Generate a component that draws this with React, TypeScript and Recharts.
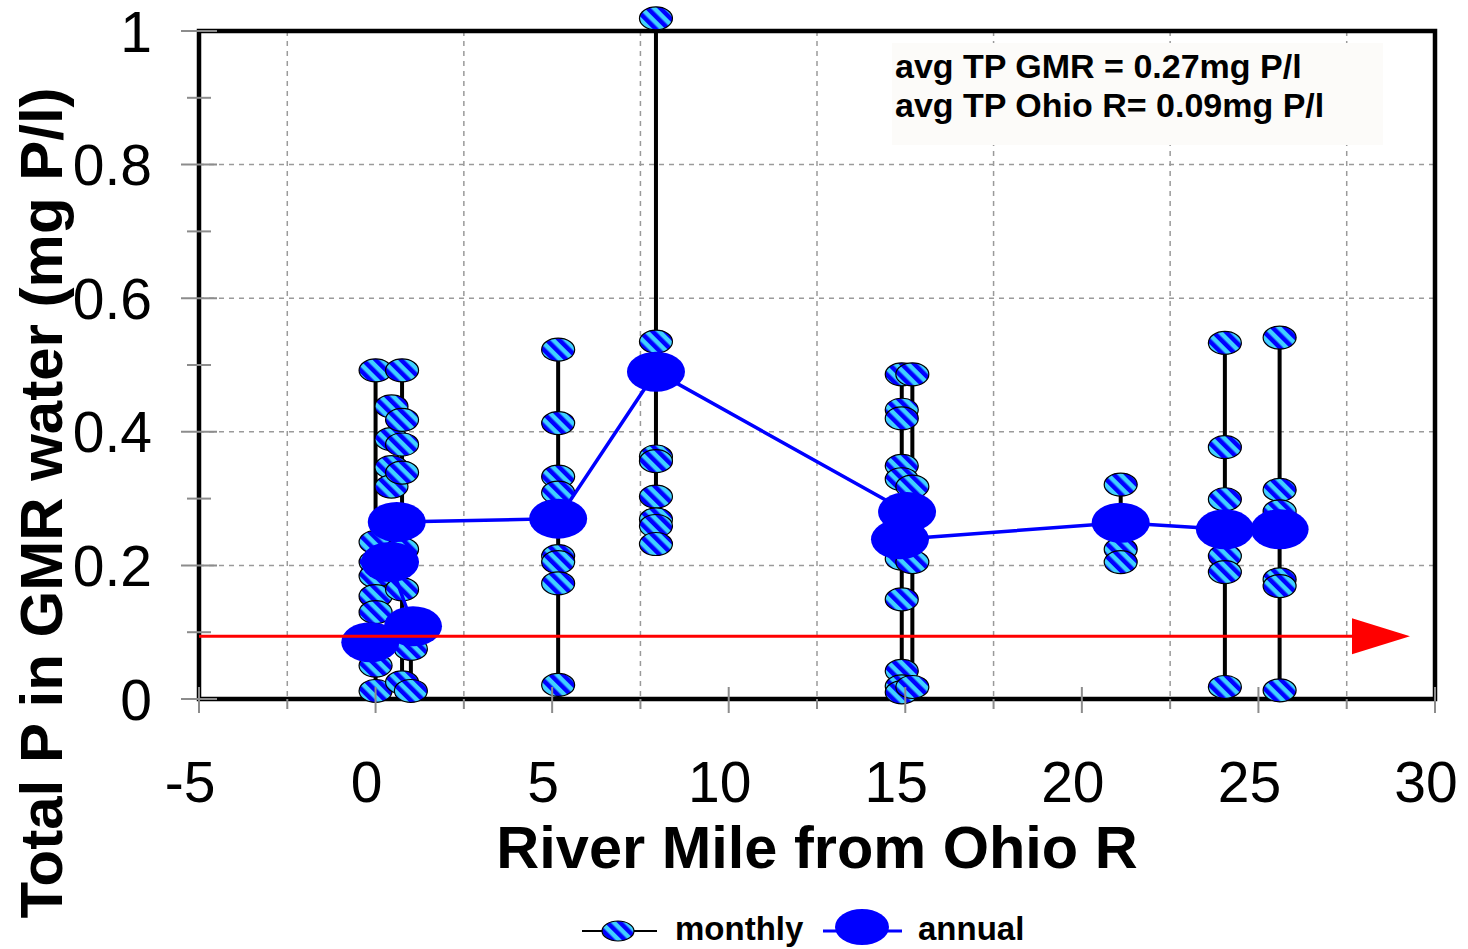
import React from "react"
import {
  ComposedChart,
  XAxis,
  YAxis,
  CartesianGrid,
  Scatter,
  ReferenceLine,
  ReferenceDot,
  ReferenceArea,
} from "recharts"

const FONT = '"Liberation Sans", Arial, sans-serif'

// river mile of each sampling station
const stationMiles = [0, 0.45, 0.75, 1.0, 5.17, 7.94, 14.9, 15.2, 21.1, 24.05, 25.6]

// monthly total P (mg P/l), one array per station (same order as stationMiles)
const monthlyRm00 = [0.492, 0.235, 0.205, 0.184, 0.154, 0.13, 0.05, 0.012]
const monthlyRm045 = [0.438, 0.389, 0.347, 0.318]
const monthlyRm075 = [0.492, 0.418, 0.381, 0.339, 0.224, 0.164, 0.025]
const monthlyRm10 = [0.075, 0.012]
const monthlyRm52 = [0.523, 0.413, 0.333, 0.309, 0.214, 0.205, 0.173, 0.021]
const monthlyRm79 = [1.019, 0.535, 0.363, 0.356, 0.303, 0.269, 0.259, 0.232]
const monthlyRm149 = [0.486, 0.433, 0.42, 0.349, 0.329, 0.21, 0.149, 0.042, 0.019, 0.01]
const monthlyRm152 = [0.486, 0.318, 0.205, 0.018]
const monthlyRm211 = [0.321, 0.224, 0.205]
const monthlyRm240 = [0.533, 0.377, 0.299, 0.214, 0.19, 0.018]
const monthlyRm256 = [0.541, 0.313, 0.281, 0.179, 0.169, 0.013]

const monthlyByStation = [
  monthlyRm00, monthlyRm045, monthlyRm075, monthlyRm10, monthlyRm52, monthlyRm79,
  monthlyRm149, monthlyRm152, monthlyRm211, monthlyRm240, monthlyRm256,
]
// stations that get a min-max bar
const rangeStations = [0, 2, 3, 4, 5, 6, 7, 8, 9, 10]

// annual means, in the order the line joins them
const annualMiles = [-0.15, 1.06, 0.41, 0.6, 5.17, 7.94, 15.05, 14.85, 21.1, 24.05, 25.6]
const annualTP = [0.085, 0.109, 0.205, 0.265, 0.27, 0.49, 0.28, 0.239, 0.264, 0.254, 0.254]

// Ohio River average, drawn as an arrow
const ohioAvgTP = 0.094
const ohioLineMiles = [-5, 27.65]

const xTicks = [-5, -2.5, 0, 2.5, 5, 7.5, 10, 12.5, 15, 17.5, 20, 22.5, 25, 27.5, 30]
const xLabelTicks = [-5, 0, 5, 10, 15, 20, 25, 30]
const xGrid = [-2.5, 2.5, 7.5, 12.5, 17.5, 22.5, 27.5]
const yTicks = [0, 0.1, 0.2, 0.3, 0.4, 0.5, 0.6, 0.7, 0.8, 0.9, 1]
const yLabelTicks = [0, 0.2, 0.4, 0.6, 0.8, 1]
const yGrid = [0.2, 0.4, 0.6, 0.8]

const monthlyPoints = monthlyByStation.flatMap((vals, i) => vals.map((v) => ({ x: stationMiles[i], y: v })))
const monthlyInside = monthlyPoints.filter((p) => p.y <= 1)
const monthlyAbove = monthlyPoints.filter((p) => p.y > 1)
const annualPoints = annualMiles.map((m, i) => ({ x: m, y: annualTP[i] }))
const ohioPoints = ohioLineMiles.map((m) => ({ x: m, y: ohioAvgTP }))

const MonthlyMark = ({ cx, cy, rx = 16.5, ry = 11.5 }: any) => (
  <ellipse cx={cx} cy={cy} rx={rx} ry={ry} fill="url(#tpStripes)" stroke="#000" strokeWidth={1.2} />
)

const AnnualMark = ({ cx, cy }: any) => <ellipse cx={cx} cy={cy} rx={29} ry={20} fill="#0000ff" />

const OhioArrow = (props: any) => {
  const { cx, cy, payload } = props
  if (payload.x !== ohioLineMiles[1]) return <g />
  return <polygon points={`${cx},${cy - 18} ${cx},${cy + 18} ${cx + 58},${cy}`} fill="#ff0000" />
}

const YTick = ({ x, y, payload }: any) => {
  const major = yLabelTicks.includes(payload.value)
  const len = major ? 18 : 12
  return (
    <g>
      <line x1={x - len} x2={x + len} y1={y} y2={y} stroke="#8c8c8c" strokeWidth={2} />
      {major && (
        <text x={x - 47} y={y} dy="0.36em" textAnchor="end" fontSize={57} fontFamily={FONT} fill="#000">
          {String(payload.value)}
        </text>
      )}
    </g>
  )
}

const XTick = ({ x, y, payload }: any) => {
  const major = xLabelTicks.includes(payload.value)
  return (
    <g>
      <line x1={x} x2={x} y1={major ? y - 12 : y} y2={major ? y + 14 : y + 10} stroke="#8c8c8c" strokeWidth={2} />
      {major && (
        <text x={x - 9} y={y + 103} textAnchor="middle" fontSize={57} fontFamily={FONT} fill="#000">
          {String(payload.value)}
        </text>
      )}
    </g>
  )
}

export default function App() {
  return (
    <div style={{ position: "absolute", left: 0, top: 0, width: 1468, height: 949, background: "#fff" }}>
      <ComposedChart width={1468} height={949} margin={{ top: 31, right: 33, bottom: 0, left: 0 }}>
        <CartesianGrid
          horizontalValues={yGrid}
          verticalValues={xGrid}
          stroke="#9a9a9a"
          strokeWidth={1.5}
          strokeDasharray="5 5"
        />
        <XAxis
          type="number"
          dataKey="x"
          domain={[-5, 30]}
          ticks={xTicks}
          interval={0}
          height={250}
          axisLine={false}
          tickLine={false}
          tickSize={0}
          tickMargin={0}
          tick={<XTick />}
        />
        <YAxis
          type="number"
          dataKey="y"
          domain={[0, 1]}
          ticks={yTicks}
          interval={0}
          width={199}
          axisLine={false}
          tickLine={false}
          tickSize={0}
          tickMargin={0}
          tick={<YTick />}
        />
        <ReferenceArea x1={-5} x2={30} y1={0} y2={1} fill="none" stroke="#000" strokeWidth={4.5} ifOverflow="visible" />
        {rangeStations.map((i) => (
          <ReferenceLine
            key={i}
            segment={[
              { x: stationMiles[i], y: Math.min(...monthlyByStation[i]) },
              { x: stationMiles[i], y: Math.max(...monthlyByStation[i]) },
            ]}
            stroke="#000"
            strokeWidth={4}
            ifOverflow="visible"
            zIndex={550}
          />
        ))}
        <Scatter data={monthlyInside} shape={<MonthlyMark />} isAnimationActive={false} zIndex={600} />
        {monthlyAbove.map((p, i) => (
          <ReferenceDot key={i} x={p.x} y={p.y} ifOverflow="visible" shape={<MonthlyMark />} zIndex={610} />
        ))}
        <Scatter
          data={annualPoints}
          line={{ stroke: "#0000ff", strokeWidth: 3.5 }}
          shape={<AnnualMark />}
          isAnimationActive={false}
          zIndex={650}
        />
        <Scatter
          data={ohioPoints}
          line={{ stroke: "#ff0000", strokeWidth: 3 }}
          shape={<OhioArrow />}
          isAnimationActive={false}
          zIndex={700}
        />
      </ComposedChart>

      <svg
        width={1468}
        height={949}
        style={{ position: "absolute", left: 0, top: 0, pointerEvents: "none" }}
        fontFamily={FONT}
      >
        <defs>
          <pattern id="tpStripes" patternUnits="userSpaceOnUse" width={9} height={9} patternTransform="rotate(-45)">
            <rect x={0} y={0} width={9} height={9} fill="#40d0ff" />
            <rect x={0} y={0} width={4.5} height={9} fill="#0000ff" />
          </pattern>
        </defs>

        <rect x={892} y={43} width={491} height={102} fill="#fcfbf9" />
        <text x={895} y={78} fontSize={34} fontWeight="bold" fill="#000">avg TP GMR = 0.27mg P/l</text>
        <text x={895} y={117} fontSize={34} fontWeight="bold" fill="#000">avg TP Ohio R= 0.09mg P/l</text>

        <text x={62} y={503} transform="rotate(-90 62 503)" textAnchor="middle" fontSize={60} fontWeight="bold" fill="#000">
          Total P in GMR water (mg P/l)
        </text>
        <text x={817} y={868} textAnchor="middle" fontSize={59.5} fontWeight="bold" fill="#000">
          River Mile from Ohio R
        </text>

        <line x1={582} x2={657} y1={931} y2={931} stroke="#000" strokeWidth={2} />
        <MonthlyMark cx={618} cy={931} rx={16} ry={10} />
        <text x={675} y={940} fontSize={33} fontWeight="bold" fill="#000">monthly</text>
        <line x1={823} x2={902} y1={931} y2={931} stroke="#0000ff" strokeWidth={3} />
        <ellipse cx={862} cy={927} rx={27} ry={18} fill="#0000ff" />
        <text x={918} y={940} fontSize={33} fontWeight="bold" fill="#000">annual</text>
      </svg>
    </div>
  )
}
